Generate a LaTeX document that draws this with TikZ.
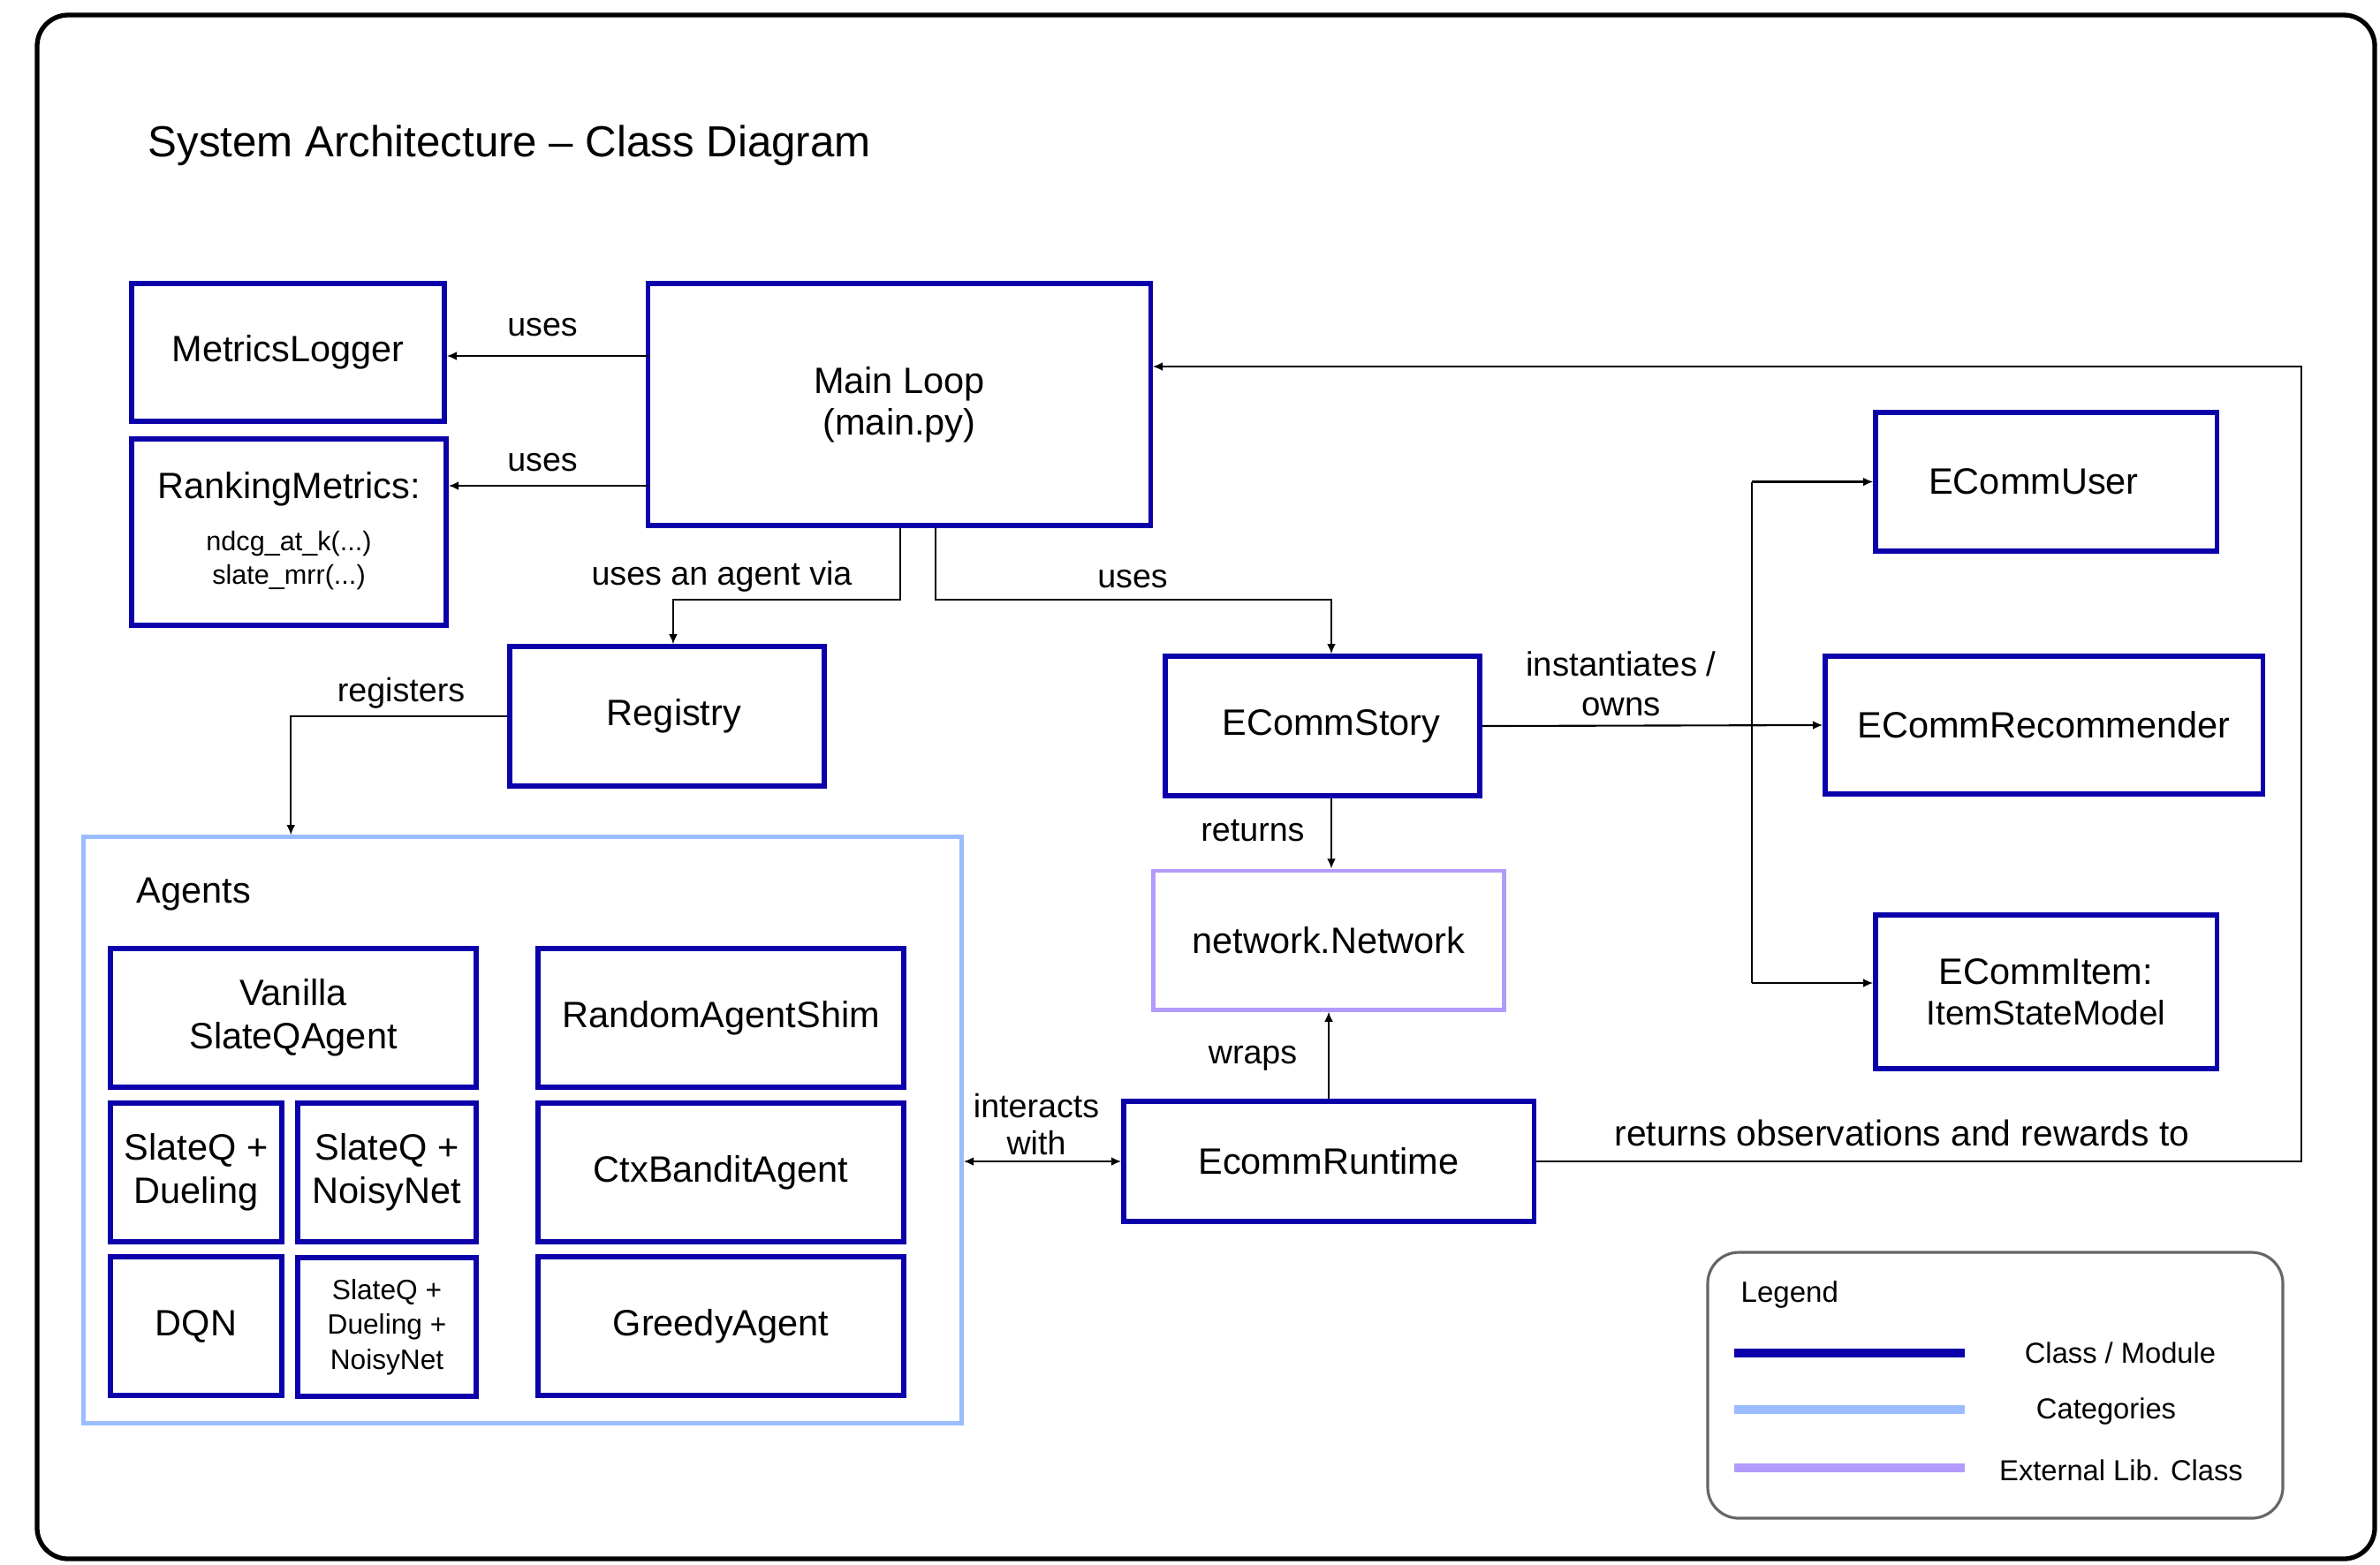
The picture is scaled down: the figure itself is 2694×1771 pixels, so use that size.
\documentclass[tikz,border=0pt]{standalone}
\usepackage{fontspec}
\setmainfont{Liberation Sans}
\usetikzlibrary{arrows.meta,calc}
\definecolor{clsblue}{RGB}{11,0,170}
\definecolor{catblue}{RGB}{155,189,255}
\definecolor{extpurple}{RGB}{179,155,253}
\definecolor{legendgray}{RGB}{102,102,102}
\begin{document}
\begin{tikzpicture}[x=0.01cm,y=-0.01cm,
  cls/.style={draw=clsblue, line width=1.5pt, inner sep=0pt, align=center,
    font=\fontsize{11.8}{14}\selectfont},
  cat/.style={draw=catblue, line width=1.4pt, inner sep=0pt},
  ext/.style={draw=extpurple, line width=1.4pt, inner sep=0pt, align=center,
    font=\fontsize{11.8}{14}\selectfont},
  txt/.style={inner sep=0pt, align=center, font=\fontsize{11.8}{14}\selectfont},
  lbl/.style={inner sep=0pt, align=center, font=\fontsize{10.7}{12.5}\selectfont},
  arr/.style={draw=black, line width=0.6pt, -{Latex[length=3.2pt,width=2.8pt]}},
  darr/.style={draw=black, line width=0.6pt, {Latex[length=3.2pt,width=2.8pt]}-{Latex[length=3.2pt,width=2.8pt]}},
  conn/.style={draw=black, line width=0.6pt},
  legline/.style={line width=2.85pt}
]
\useasboundingbox (0,0) rectangle (2694,1771);
\fill[white] (0,0) rectangle (2694,1771);

% outer frame
\draw[black, line width=1.5pt, rounded corners=10pt] (42,17) rectangle (2688,1765);

% title
\node[inner sep=0pt, anchor=west, font=\fontsize{14}{16}\selectfont] (title) at (167,165) {System Architecture -- Class Diagram};

% left column
\node[cls, minimum width=3.54cm, minimum height=1.56cm] (metrics) at (326,399) {MetricsLogger};
\node[cls, minimum width=3.56cm, minimum height=2.11cm] (ranking) at (327,602.5) {};
\node[txt] (rankingtitle) at (327,554) {RankingMetrics:};
\node[inner sep=0pt, align=center, font=\fontsize{8.7}{10.8}\selectfont] (rankingfns) at (327,635) {ndcg\_at\_k(...)\\slate\_mrr(...)};

% main loop
\node[cls, minimum width=5.68cm, minimum height=2.74cm, font=\fontsize{11.8}{13.4}\selectfont] (mainloop) at (1018,458) {Main Loop\\(main.py)};

\node[cls, minimum width=3.56cm, minimum height=1.58cm] (registry) at (755,811) {\hspace*{0.16cm}Registry};
\node[cls, minimum width=3.56cm, minimum height=1.58cm] (story) at (1497,822) {\hspace*{0.2cm}ECommStory};
\node[ext, minimum width=3.96cm, minimum height=1.57cm] (network) at (1504,1064.5) {network.Network};
\node[cls, minimum width=4.64cm, minimum height=1.36cm] (runtime) at (1504,1315) {EcommRuntime};

% right column
\node[cls, minimum width=3.86cm, minimum height=1.57cm] (user) at (2316,545.5) {ECommUser\hspace*{0.28cm}};
\node[cls, minimum width=4.95cm, minimum height=1.56cm] (reco) at (2313.5,821) {ECommRecommender};
\node[cls, minimum width=3.86cm, minimum height=1.74cm, font=\fontsize{11.8}{13}\selectfont] (item) at (2316,1123) {ECommItem:\\{\fontsize{11}{13}\selectfont ItemStateModel}};

% agents container
\node[cat, minimum width=9.93cm, minimum height=6.63cm] (agents) at (591.5,1279.5) {};
\node[txt, anchor=west] (agentslabel) at (154,1012) {Agents};

\node[cls, minimum width=4.14cm, minimum height=1.57cm] (vanilla) at (332,1152.5) {Vanilla\\SlateQAgent};
\node[cls, minimum width=1.94cm, minimum height=1.57cm] (sqd) at (222,1327.5) {SlateQ +\\Dueling};
\node[cls, minimum width=2.02cm, minimum height=1.57cm] (sqn) at (438,1327.5) {SlateQ +\\NoisyNet};
\node[cls, minimum width=1.94cm, minimum height=1.57cm] (dqn) at (222,1501.5) {DQN};
\node[cls, minimum width=2.02cm, minimum height=1.57cm, font=\fontsize{9}{11.2}\selectfont] (sqdn) at (438,1502.5) {SlateQ +\\Dueling +\\NoisyNet};
\node[cls, minimum width=4.14cm, minimum height=1.57cm] (random) at (816,1152.5) {RandomAgentShim};
\node[cls, minimum width=4.14cm, minimum height=1.57cm] (ctx) at (816,1327.5) {CtxBanditAgent};
\node[cls, minimum width=4.14cm, minimum height=1.57cm] (greedy) at (816,1501.5) {GreedyAgent};

% connectors
\coordinate (u1) at (734,403);
\coordinate (u2) at (734,550);
\draw[arr] (u1) -- (metrics.east |- u1);
\draw[arr] (u2) -- (ranking.east |- u2);
\node[lbl] (uses1) at (614,371) {uses};
\node[lbl] (uses2) at (614,524) {uses};

\coordinate (jA) at (1019,679);
\draw[arr] (mainloop.south -| jA) -- (jA) -| ($(registry.north)+(7,0)$);
\node[lbl] (viaLbl) at (817,653) {uses an agent via};

\coordinate (jB) at (1059,679);
\draw[arr] (mainloop.south -| jB) -- (jB) -| ($(story.north)+(10,0)$);
\node[lbl] (uses3) at (1282,656) {uses};

\draw[arr] (registry.west) -| ($(agents.north west)+(237,0)$);
\node[lbl] (regLbl) at (454,785) {registers};

\draw[darr] (agents.east |- runtime.west) -- (runtime.west);
\node[lbl, font=\fontsize{10.7}{12.2}\selectfont] (interLbl) at (1173,1273) {interacts\\with};

\draw[arr] ($(story.south)+(10,0)$) -- ($(network.north)+(3,0)$);
\node[lbl] (retLbl) at (1418,940) {returns};

\draw[arr] (runtime.north) -- (network.south);
\node[lbl] (wrapLbl) at (1418,1198) {wraps};

\draw[arr] (story.east) -- (reco.west);
\node[lbl, font=\fontsize{10.9}{12.8}\selectfont] (instLbl) at (1835,774) {instantiates /\\owns};
\coordinate (br1) at (1983,545.5);
\coordinate (br2) at (1983,1113);
\draw[conn] (br1) -- (br2);
\draw[arr] (br1) -- (user.west);
\draw[arr] (br2) -- (item.west |- br2);

\coordinate (rr) at (2605,415);
\draw[arr] (runtime.east) -| (rr) -- (mainloop.east |- rr);
\node[lbl, font=\fontsize{11.6}{13}\selectfont] (obsLbl) at (2153,1283) {returns observations and rewards to};

% legend
\draw[legendgray, line width=0.9pt, rounded corners=10pt] (1933,1418) rectangle (2584,1719);
\node[inner sep=0pt, anchor=west, font=\fontsize{9.4}{11}\selectfont] (legTitle) at (1970,1466) {Legend};
\draw[legline, clsblue] (1963,1532) -- (2224,1532);
\draw[legline, catblue] (1963,1596) -- (2224,1596);
\draw[legline, extpurple] (1963,1662) -- (2224,1662);
\node[inner sep=0pt, font=\fontsize{9.3}{11}\selectfont] (leg1) at (2400,1532) {Class / Module};
\node[inner sep=0pt, font=\fontsize{9.3}{11}\selectfont] (leg2) at (2384,1598) {Categories};
\node[inner sep=0pt, font=\fontsize{9.3}{11}\selectfont] (leg3) at (2401,1665) {External Lib. Class};
\end{tikzpicture}
\end{document}
